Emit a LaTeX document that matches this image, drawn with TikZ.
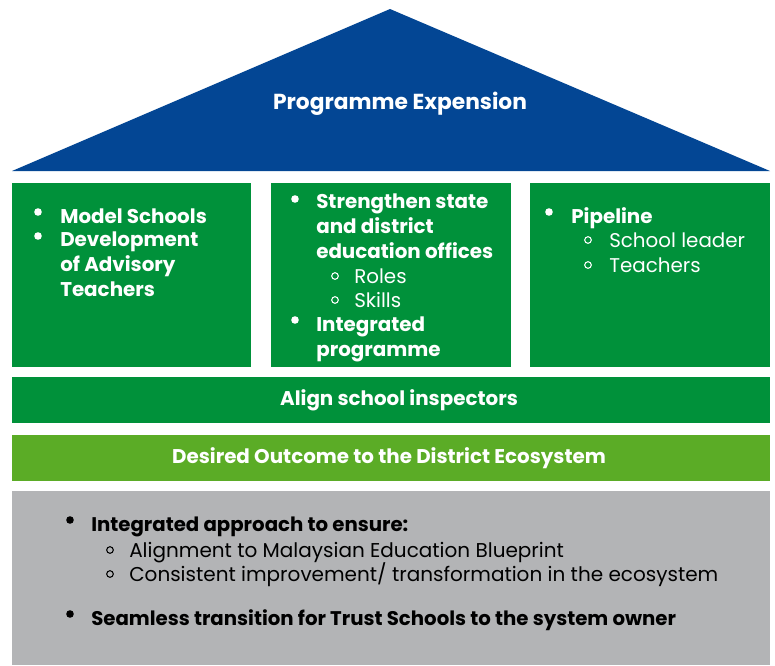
\documentclass[tikz,border=0pt]{standalone}
\usepackage{fontspec}
\setmainfont{Poppins}
\definecolor{roofblue}{RGB}{3,70,148}
\definecolor{pillargreen}{RGB}{0,145,58}
\definecolor{outcomegreen}{RGB}{91,172,38}
\definecolor{basegray}{RGB}{179,180,182}
\tikzset{
  pillar/.style={fill=pillargreen, draw=none},
  wbold/.style={anchor=base west, inner sep=0.75pt, align=left, text=white, font=\fontsize{14.9}{18.4}\selectfont\bfseries},
  wlight/.style={anchor=base west, inner sep=0.75pt, align=left, text=white, font=\fontsize{14.9}{18.4}\selectfont},
  kbold/.style={anchor=base west, inner sep=0.75pt, align=left, text=black, font=\fontsize{14.8}{18.8}\selectfont\bfseries},
  klight/.style={anchor=base west, inner sep=0.75pt, align=left, text=black, font=\fontsize{15}{18.8}\selectfont},
  bartext/.style={inner sep=0.75pt, text=white, font=\fontsize{14.9}{18}\selectfont\bfseries}
}
\begin{document}
\begin{tikzpicture}[x=0.75pt,y=0.75pt,yscale=-1,xscale=1]
\useasboundingbox (0,0) rectangle (775,665);

%Shape: Roof
\fill [roofblue] (390,9) -- (770,171) -- (12,171) -- cycle;
%Shape: Pillars
\fill [pillar] (12,183) rectangle (251,367);
\fill [pillar] (271,183) rectangle (511,367);
\fill [pillar] (530,183) rectangle (770,367);
%Shape: Bars
\fill [pillar] (12,377) rectangle (770,423);
\fill [outcomegreen] (12,435) rectangle (770,481);
\fill [basegray] (12,491) rectangle (770,665);

% Bullets
\fill [white] (38,212) circle (3.8);
\fill [white] (38,236) circle (3.8);
\fill [white] (295,199) circle (3.8);
\fill [white] (295,320) circle (3.8);
\fill [white] (549,212) circle (3.8);
\draw [white, line width=0.8] (335,276) circle (3.3);
\draw [white, line width=0.8] (335,300) circle (3.3);
\draw [white, line width=0.8] (588,240) circle (3.3);
\draw [white, line width=0.8] (588,265) circle (3.3);
\fill [black] (70,520) circle (3.8);
\fill [black] (70,614) circle (3.8);
\draw [black, line width=0.8] (110,550) circle (3.3);
\draw [black, line width=0.8] (110,574) circle (3.3);

% Text Node
\node (roofText) at (400,104) [bartext, font=\fontsize{16.3}{20}\selectfont\bfseries] {Programme Expension};
% Text Node
\node (modelSchools) at (59,223) [wbold] {Model Schools};
\node (advisory) at (59,296) [wbold] {Development\\of Advisory\\Teachers};
% Text Node
\node (strengthen) at (315,258) [wbold] {Strengthen state\\and district\\education offices};
\node (roles) at (353,283) [wlight] {Roles};
\node (skills) at (353,307) [wlight] {Skills};
\node (integrated) at (315,356) [wbold] {Integrated\\programme};
% Text Node
\node (pipeline) at (570,223) [wbold] {Pipeline};
\node (leader) at (608,247) [wlight] {School leader};
\node (teachers) at (608,272) [wlight] {Teachers};
% Text Node
\node (alignText) at (399,400) [bartext] {Align school inspectors};
\node (outcomeText) at (389,458) [bartext] {Desired Outcome to the District Ecosystem};
% Text Node
\node (approach) at (90,531) [kbold] {Integrated approach to ensure:};
\node (blueprint) at (128,557) [klight] {Alignment to Malaysian Education Blueprint};
\node (consistent) at (128,581) [klight] {Consistent improvement/ transformation in the ecosystem};
\node (seamless) at (90,625) [kbold] {Seamless transition for Trust Schools to the system owner};

\end{tikzpicture}
\end{document}
